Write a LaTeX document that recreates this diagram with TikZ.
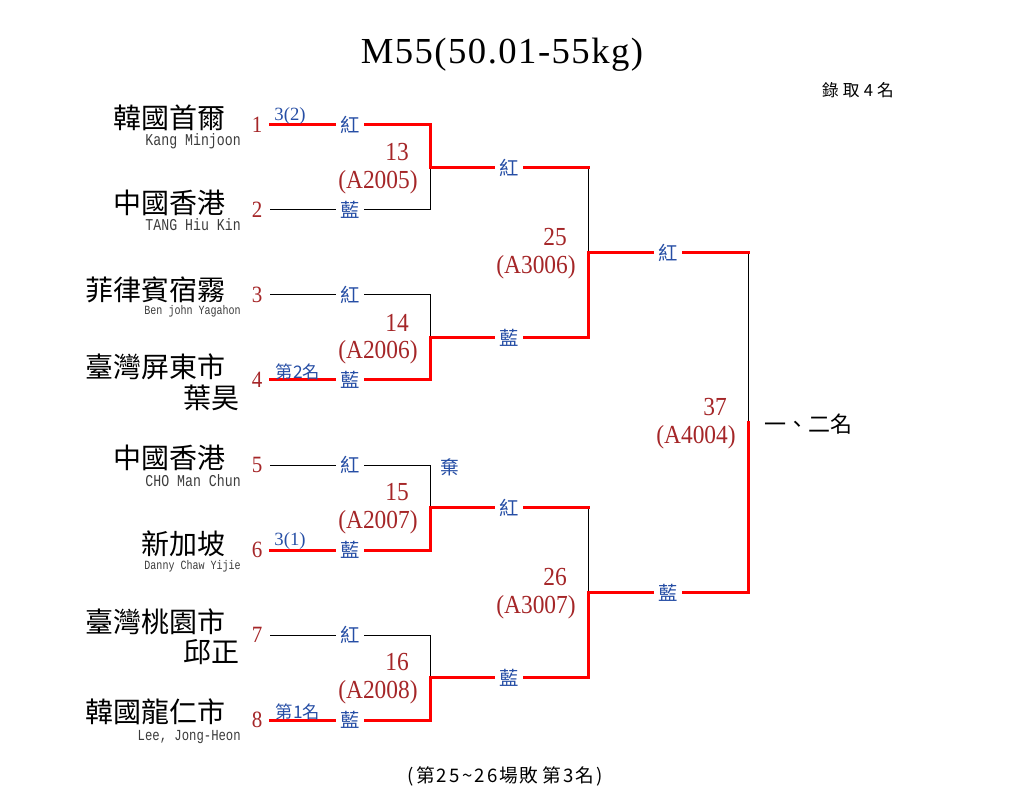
\documentclass[tikz,border=0pt]{standalone}
\usepackage{fontspec}
\setmainfont{Liberation Serif}
\newfontfamily\numfont[FakeStretch=0.9]{Liberation Serif}
\newfontfamily\titlefont[LetterSpace=4]{Liberation Serif}
\newfontfamily\enfont[FakeStretch=0.8]{Liberation Mono}
\newfontfamily\cjk{Noto Sans CJK TC}
\newfontfamily\cjkmid[LetterSpace=12]{Noto Sans CJK TC}
\newfontfamily\cjksp[LetterSpace=25]{Noto Sans CJK TC}
\usetikzlibrary{calc}

\begin{document}
\begin{tikzpicture}[
            x=0.75pt,y=-0.75pt,
            win/.style={draw=rex,line width=2.25pt,line cap=rect},
            lose/.style={draw=black,line width=0.75pt},
            colortag/.style={fill=white,text=blx,inner xsep=3.5pt,inner ysep=1.5pt,font=\cjk\fontsize{14.5}{14.5}\selectfont},
            seedno/.style={text=rdk,inner sep=0pt,font=\numfont\fontsize{17.5}{17.5}\selectfont},
            bout/.style={text=rdk,inner sep=0pt,font=\numfont\fontsize{19.5}{20}\selectfont},
            zh/.style={anchor=east,inner sep=0pt,font=\cjk\fontsize{21}{21}\selectfont},
            en/.style={anchor=east,inner sep=0pt,text=gyx,font=\enfont\fontsize{12.4}{12.4}\selectfont},
            note/.style={text=blx,inner sep=0pt}
        ]
            \colorlet{rex}{red}
            \definecolor{rdk}{RGB}{165,38,40}
            \definecolor{blx}{RGB}{38,78,165}
            \definecolor{gyx}{RGB}{60,60,60}

            \fill[white] (0,0) rectangle (1010,805);
            \useasboundingbox (0,0) rectangle (1010,805);

            \node [font=\titlefont\fontsize{27.5}{30}\selectfont] (title) at (502,55) {M55(50.01-55kg)};
            \node [font=\cjksp\fontsize{12.5}{13}\selectfont]      (quota) at (858,90) {錄取4名};

            % seeds and line ends
            \foreach \i/\y in {1/125,2/210,3/295,4/380,5/465,6/550,7/635,8/720} {
                \node [seedno] (n\i) at (257,\y) {\i};
                \coordinate (a\i) at (270,\y);
                \coordinate (c\i) at (430,\y);
            }

            % names
            \node [zh] (zh1)  at (226,118) {韓國首爾};
            \node [en] (en1)  at (241,141) {Kang Minjoon};
            \node [zh] (zh2)  at (226,203) {中國香港};
            \node [en] (en2)  at (241,225) {TANG Hiu Kin};
            \node [zh] (zh3)  at (226,290) {菲律賓宿霧};
            \node [en,font=\enfont\fontsize{9.4}{9.4}\selectfont] (en3) at (241,311) {Ben john Yagahon};
            \node [zh] (zh4)  at (226,367) {臺灣屏東市};
            \node [zh] (zh4b) at (240,398) {葉昊};
            \node [zh] (zh5)  at (226,458) {中國香港};
            \node [en] (en5)  at (241,481) {CHO Man Chun};
            \node [zh] (zh6)  at (226,544) {新加坡};
            \node [en,font=\enfont\fontsize{9.4}{9.4}\selectfont] (en6) at (241,566) {Danny Chaw Yijie};
            \node [zh] (zh7)  at (226,622) {臺灣桃園市};
            \node [zh] (zh7b) at (240,652) {邱正};
            \node [zh] (zh8)  at (226,712) {韓國龍仁市};
            \node [en,font=\enfont\fontsize{11.5}{11.5}\selectfont] (en8) at (241,737) {Lee, Jong-Heon};

            % bracket points
            \coordinate (m13) at ($(c1)!0.5!(c2)$);
            \coordinate (m14) at ($(c3)!0.5!(c4)$);
            \coordinate (m15) at ($(c5)!0.5!(c6)$);
            \coordinate (m16) at ($(c7)!0.5!(c8)$);
            \coordinate (d13) at ($(m13)+(158,0)$);
            \coordinate (d14) at ($(m14)+(158,0)$);
            \coordinate (d15) at ($(m15)+(158,0)$);
            \coordinate (d16) at ($(m16)+(158,0)$);
            \coordinate (m25) at ($(d13)!0.5!(d14)$);
            \coordinate (m26) at ($(d15)!0.5!(d16)$);
            \coordinate (e25) at ($(m25)+(160,0)$);
            \coordinate (e26) at ($(m26)+(160,0)$);
            \coordinate (m37) at ($(e25)!0.5!(e26)$);

            % losers
            \draw [lose] (a2)  -- node[colortag] {藍} (c2) -- (m13);
            \draw [lose] (a3)  -- node[colortag] {紅} (c3) -- (m14);
            \draw [lose] (a5)  -- node[colortag] {紅} (c5) -- (m15);
            \draw [lose] (a7)  -- node[colortag] {紅} (c7) -- (m16);
            \draw [lose] (d13) -- (m25);
            \draw [lose] (d15) -- (m26);
            \draw [lose] (e25) -- (m37);
            % winners
            \draw [win]  (a1)  -- node[colortag] {紅} (c1)  -- (m13);
            \draw [win]  (a4)  -- node[colortag] {藍} (c4)  -- (m14);
            \draw [win]  (a6)  -- node[colortag] {藍} (c6)  -- (m15);
            \draw [win]  (a8)  -- node[colortag] {藍} (c8)  -- (m16);
            \draw [win]  (m13) -- node[colortag] {紅} (d13);
            \draw [win]  (m14) -- node[colortag] {藍} (d14) -- (m25);
            \draw [win]  (m15) -- node[colortag] {紅} (d15);
            \draw [win]  (m16) -- node[colortag] {藍} (d16) -- (m26);
            \draw [win]  (m25) -- node[colortag] {紅} (e25);
            \draw [win]  (m26) -- node[colortag] {藍} (e26) -- (m37);

            % bout numbers
            \foreach \m/\g/\h in {m13/13/A2005,m14/14/A2006,m15/15/A2007,m16/16/A2008,m25/25/A3006,m26/26/A3007,m37/37/A4004} {
                \node [bout] (g\g) at ($(\m)+(-33,-15)$) {\g};
                \node [bout] (h\g) at ($(\m)+(-52,15)$)  {(\h)};
            }

            % notes
            \node [note,font=\fontsize{14}{14}\selectfont]      (r1) at (290,116) {3(2)};
            \node [note,font=\cjk\fontsize{13}{13}\selectfont]  (r4) at (298,372) {第2名};
            \node [note,font=\fontsize{14}{14}\selectfont]      (r6) at (290,541) {3(1)};
            \node [note,font=\cjk\fontsize{13}{13}\selectfont]  (r8) at (298,712) {第1名};
            \node [note,font=\cjk\fontsize{14}{14}\selectfont]  (wo) at (450,467) {棄};

            \node [anchor=west,font=\cjk\fontsize{16.5}{17}\selectfont] (place12) at (760,424) {一、二名};
            \node [font=\cjkmid\fontsize{14}{15}\selectfont] (place3) at (505,776) {(第25\textasciitilde 26場\kern1pt 敗\kern3pt 第3\kern1pt 名)};
        \end{tikzpicture}
\end{document}
